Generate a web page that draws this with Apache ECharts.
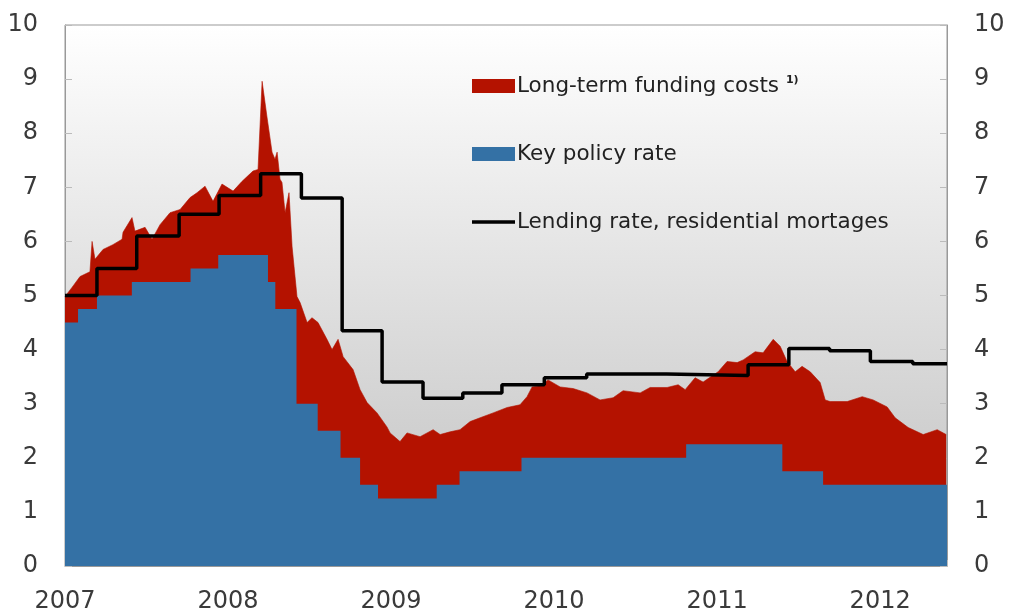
<!DOCTYPE html>
<html>
<head>
<meta charset="utf-8">
<title>Funding costs and rates</title>
<script src="https://cdn.jsdelivr.net/npm/echarts@6/dist/echarts.min.js"></script>
<style>
  html, body { margin: 0; padding: 0; background: #fff; }
  #chart { width: 1013px; height: 616px; }
</style>
</head>
<body>
<div id="chart"></div>
<script>
// x values are fractional years
var fundingDates = [2007.000, 2007.043, 2007.092, 2007.153, 2007.166, 2007.184, 2007.233, 2007.294, 2007.350, 2007.356,
  2007.411, 2007.429, 2007.491, 2007.534, 2007.583, 2007.644, 2007.706, 2007.767, 2007.810, 2007.859,
  2007.908, 2007.963, 2008.031, 2008.086, 2008.153, 2008.184, 2008.209, 2008.239, 2008.270, 2008.288,
  2008.301, 2008.319, 2008.331, 2008.350, 2008.374, 2008.393, 2008.423, 2008.442, 2008.485, 2008.515,
  2008.552, 2008.607, 2008.638, 2008.675, 2008.706, 2008.767, 2008.810, 2008.853, 2008.914, 2008.975,
  2008.994, 2009.055, 2009.098, 2009.178, 2009.258, 2009.301, 2009.362, 2009.423, 2009.485, 2009.546,
  2009.626, 2009.712, 2009.791, 2009.834, 2009.865, 2009.914, 2009.963, 2010.037, 2010.117, 2010.202,
  2010.282, 2010.362, 2010.423, 2010.528, 2010.589, 2010.693, 2010.761, 2010.804, 2010.865, 2010.914,
  2011.006, 2011.061, 2011.123, 2011.160, 2011.233, 2011.282, 2011.344, 2011.387, 2011.429, 2011.479,
  2011.521, 2011.571, 2011.632, 2011.663, 2011.693, 2011.798, 2011.890, 2011.957, 2012.043, 2012.092,
  2012.172, 2012.264, 2012.350, 2012.405];
var fundingValues = [4.98, 5.15, 5.35, 5.44, 6.0, 5.67, 5.85, 5.94, 6.04, 6.17,
  6.44, 6.19, 6.26, 6.04, 6.31, 6.53, 6.59, 6.81, 6.9, 7.02,
  6.74, 7.06, 6.93, 7.11, 7.3, 7.33, 8.96, 8.3, 7.65, 7.52,
  7.65, 7.15, 7.09, 6.53, 6.9, 5.9, 4.98, 4.87, 4.5, 4.59,
  4.5, 4.19, 4.0, 4.19, 3.87, 3.63, 3.26, 3.02, 2.83, 2.57,
  2.46, 2.3, 2.46, 2.39, 2.52, 2.43, 2.48, 2.52, 2.67, 2.74,
  2.83, 2.93, 2.98, 3.13, 3.31, 3.33, 3.44, 3.31, 3.28, 3.2,
  3.07, 3.11, 3.24, 3.2, 3.3, 3.3, 3.35, 3.26, 3.48, 3.4,
  3.59, 3.78, 3.76, 3.81, 3.96, 3.94, 4.19, 4.06, 3.78, 3.59,
  3.69, 3.59, 3.39, 3.07, 3.04, 3.04, 3.13, 3.07, 2.94, 2.74,
  2.56, 2.43, 2.52, 2.43];

var policyDates = [2007.0, 2007.08, 2007.196, 2007.41, 2007.77, 2007.94, 2008.245, 2008.29, 2008.42, 2008.55,
  2008.69, 2008.81, 2008.92, 2009.28, 2009.42, 2009.80, 2010.81, 2011.40, 2011.65, 2012.41];
var policyValues = [4.5, 4.75, 5.0, 5.25, 5.5, 5.75, 5.25, 4.75, 3.0, 2.5,
  2.0, 1.5, 1.25, 1.5, 1.75, 2.0, 2.25, 1.75, 1.5, 1.5];

var lendingDates = [2007.0, 2007.196, 2007.44, 2007.70, 2007.945, 2008.20, 2008.45, 2008.70, 2008.945, 2009.196,
  2009.44, 2009.68, 2009.94, 2010.20, 2010.69, 2011.19, 2011.44, 2011.69, 2011.94, 2012.20, 2012.41];
var lendingValues = [5.0, 5.5, 6.1, 6.5, 6.85, 7.25, 6.8, 4.35, 3.4, 3.1,
  3.2, 3.35, 3.48, 3.55, 3.52, 3.72, 4.02, 3.98, 3.78, 3.74, 3.74];

var yearTicks = [2007, 2008, 2009, 2010, 2011, 2012];
var xMin = 2007, xMax = 2012.41;

var names = ["Long-term funding costs", "Key policy rate", "Lending rate, residential mortages"];
var RED = "#b41200", BLUE = "#3471a5";
var FONT = "'DejaVu Sans', 'Liberation Sans', sans-serif";

function pairs(xs, ys) {
  return xs.map(function (x, i) { return [x, ys[i]]; });
}

var chart = echarts.init(document.getElementById("chart"));

var yAxisBase = {
  type: "value",
  min: 0,
  max: 10,
  interval: 1,
  splitLine: { show: false },
  axisLine: { show: true, lineStyle: { color: "#999" } },
  axisTick: { show: true, inside: true, length: 7, lineStyle: { color: "#bbb" } },
  axisLabel: { fontSize: 24, color: "#3a3a3a", fontFamily: FONT, margin: 27 }
};

chart.setOption({
  animation: false,
  grid: {
    left: 65,
    right: 66,
    top: 25,
    bottom: 50,
    show: true,
    borderColor: "#999",
    borderWidth: 1,
    backgroundColor: {
      type: "linear", x: 0, y: 0, x2: 0, y2: 1,
      colorStops: [{ offset: 0, color: "#ffffff" }, { offset: 1, color: "#c0c0c0" }]
    }
  },
  legend: {
    orient: "vertical",
    left: 472,
    top: 75,
    padding: 0,
    itemWidth: 43,
    itemHeight: 14,
    itemGap: 46,
    data: [
      { name: names[0], icon: "rect" },
      { name: names[1], icon: "rect" },
      { name: names[2], icon: "path://M0,0H43V3.5H0Z" }
    ],
    formatter: function (name) {
      return name === names[0] ? name + " {sup|1)}" : name;
    },
    textStyle: {
      fontSize: 21.5,
      color: "#222",
      fontFamily: FONT,
      padding: [0, 0, 0, -3],
      rich: {
        sup: { fontSize: 11, color: "#222", fontFamily: FONT, fontWeight: "bold", verticalAlign: "top", padding: [0, 0, 10, 0] }
      }
    }
  },
  xAxis: {
    type: "value",
    min: xMin,
    max: xMax,
    interval: 1,
    splitLine: { show: false },
    axisLine: { lineStyle: { color: "#999" } },
    axisTick: { inside: true, length: 6, lineStyle: { color: "#bbb" } },
    axisLabel: {
      fontSize: 24,
      color: "#3a3a3a",
      fontFamily: FONT,
      margin: 24,
      formatter: function (v) {
        return yearTicks.indexOf(v) >= 0 ? String(v) : "";
      }
    }
  },
  yAxis: [
    Object.assign({ position: "left" }, yAxisBase),
    Object.assign({ position: "right" }, yAxisBase)
  ],
  series: [
    {
      name: names[0],
      type: "line",
      data: pairs(fundingDates, fundingValues),
      showSymbol: false,
      symbol: "none",
      itemStyle: { color: RED },
      lineStyle: { width: 0.6, color: RED },
      areaStyle: { color: RED, opacity: 1 },
      z: 1
    },
    {
      name: names[1],
      type: "line",
      step: "end",
      data: pairs(policyDates, policyValues),
      showSymbol: false,
      symbol: "none",
      itemStyle: { color: BLUE },
      lineStyle: { width: 0 },
      areaStyle: { color: BLUE, opacity: 1 },
      z: 2
    },
    {
      name: names[2],
      type: "line",
      step: "end",
      data: pairs(lendingDates, lendingValues),
      showSymbol: false,
      symbol: "none",
      itemStyle: { color: "#000" },
      lineStyle: { width: 3.5, color: "#000" },
      z: 3
    }
  ]
});
</script>
</body>
</html>
